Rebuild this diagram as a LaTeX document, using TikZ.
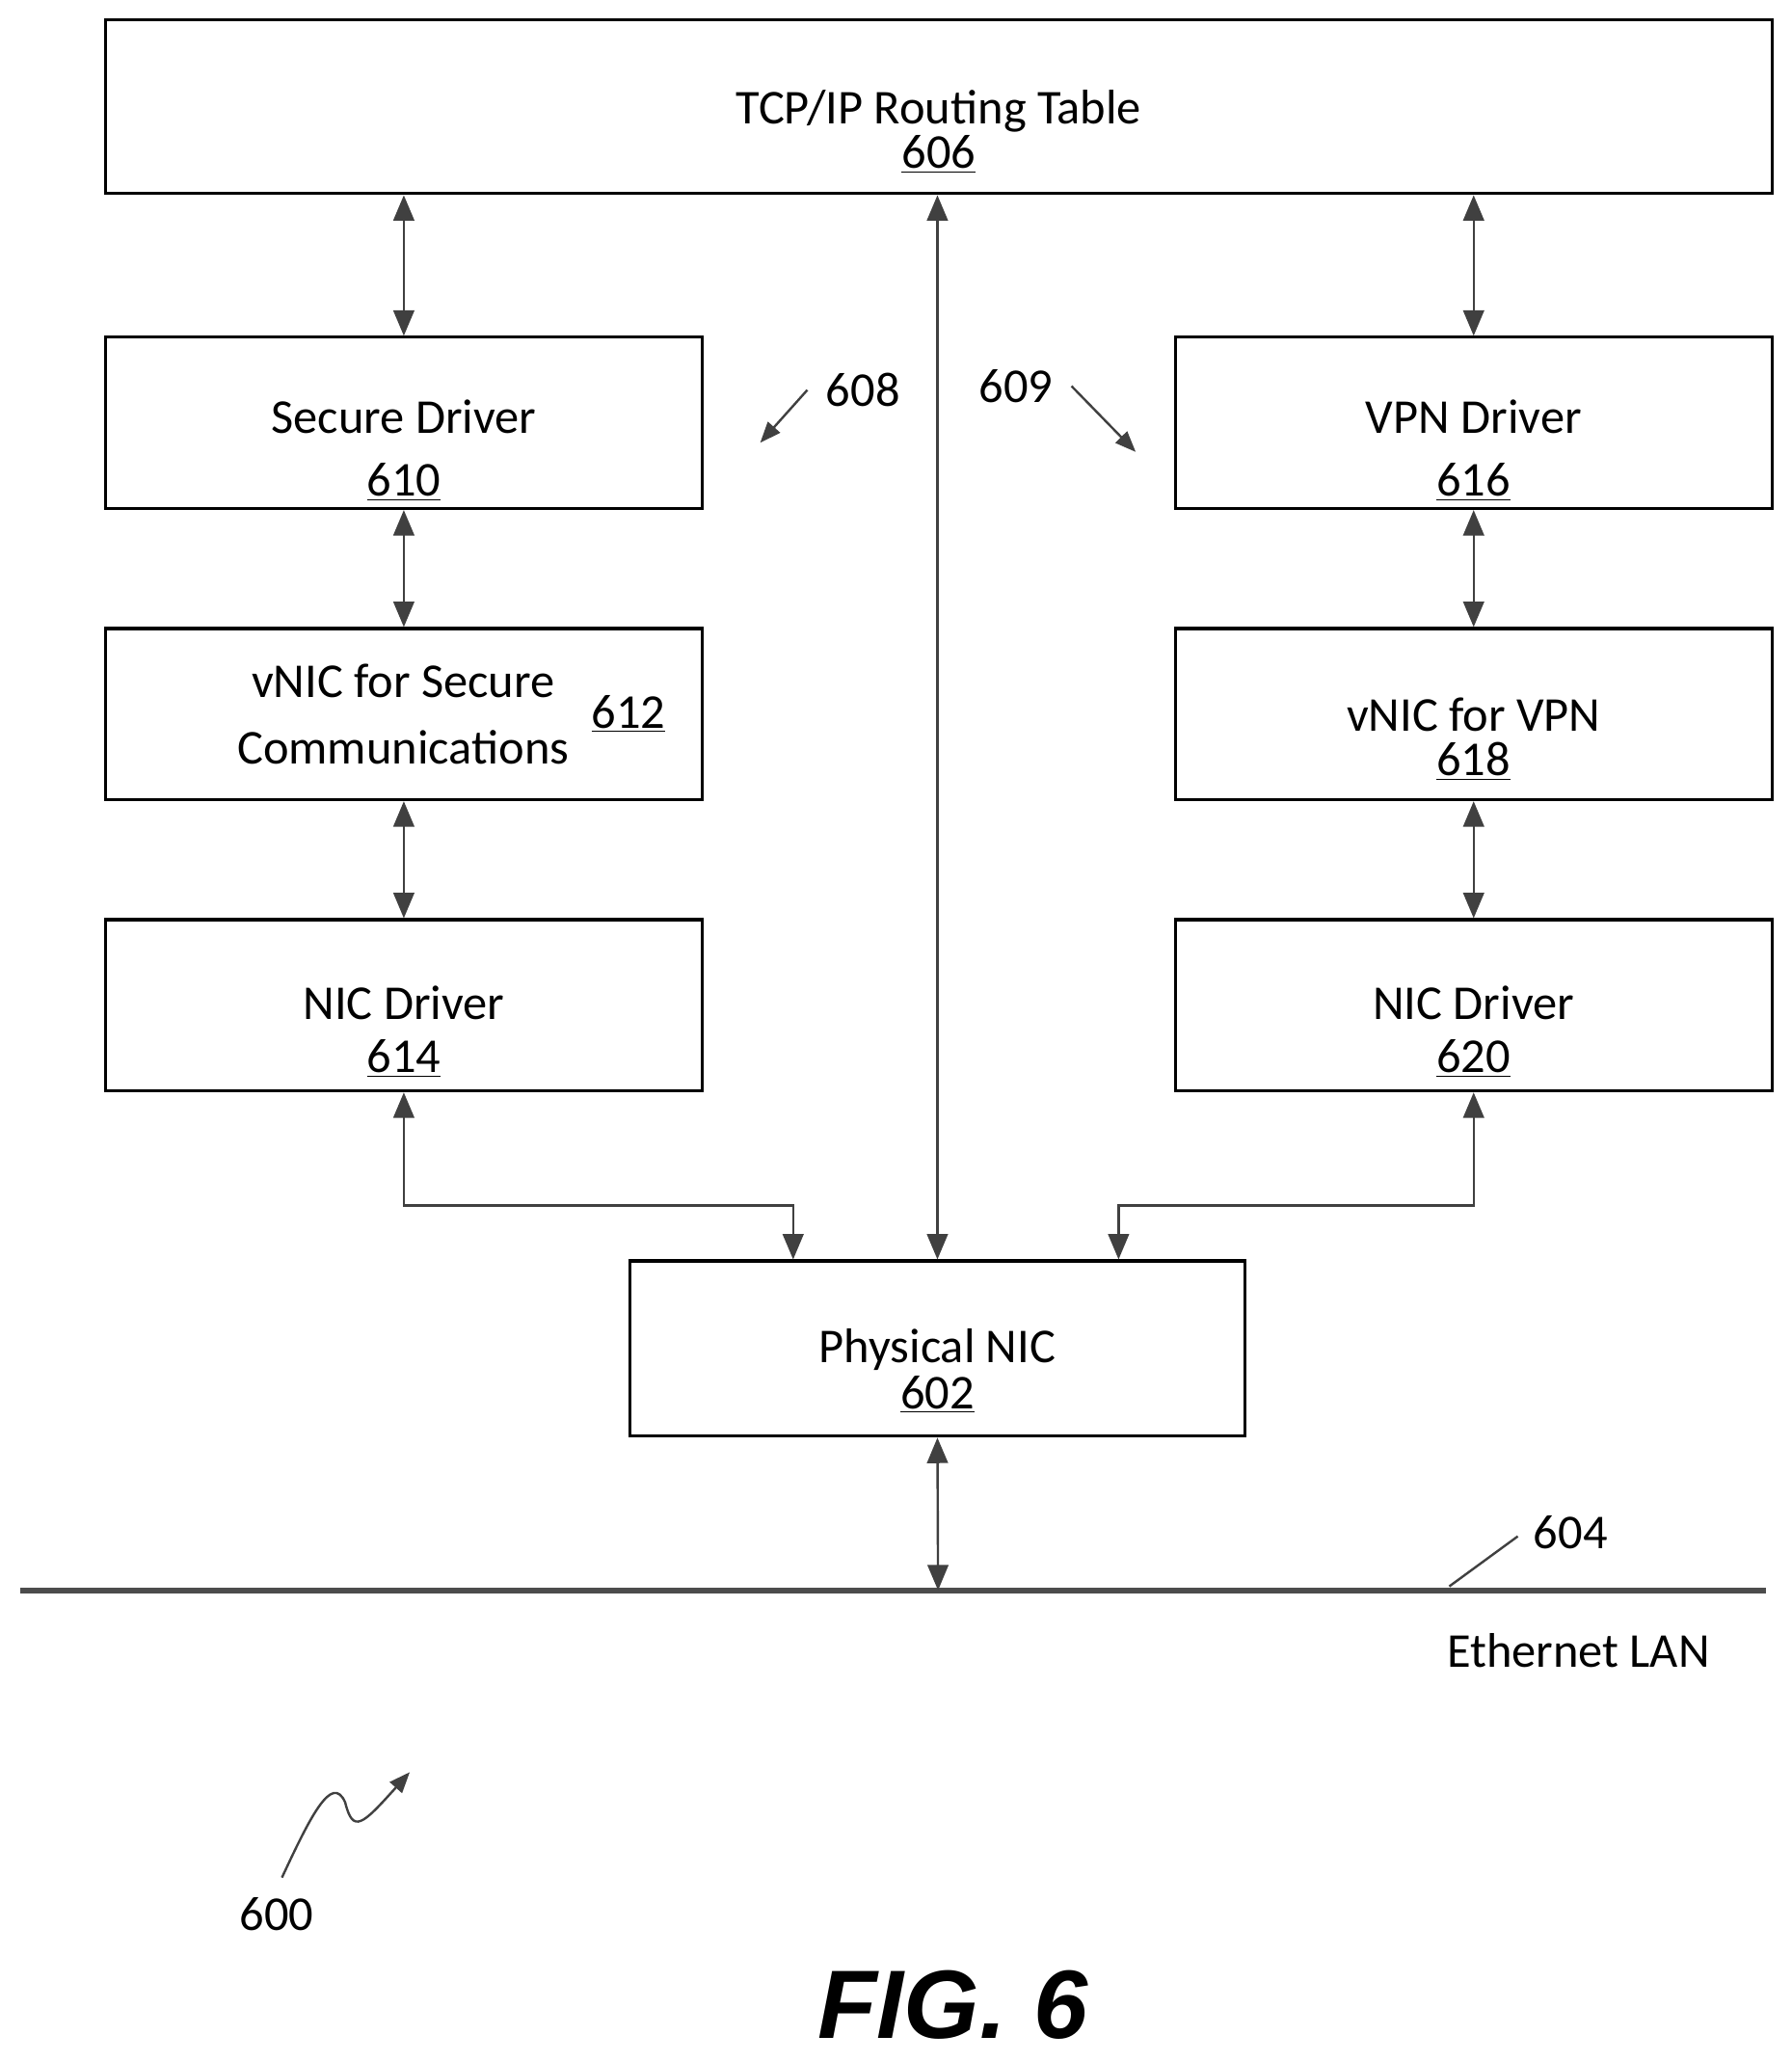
\documentclass[tikz,border=0pt]{standalone}
\usepackage{fontspec}
\setmainfont{Carlito}
\newfontfamily\figfont{Liberation Sans}
\usetikzlibrary{arrows.meta}
\begin{document}
\begin{tikzpicture}[x=0.02cm,y=-0.02cm,
    font=\fontsize{21}{25}\selectfont,
    box/.style={draw, line width=1.3pt, minimum width=9.06cm, minimum height=2.6cm},
    txt/.style={align=center},
    link/.style={{Triangle[length=11pt,width=9pt]}-{Triangle[length=11pt,width=9pt]}, line width=1pt, draw=black!75},
    pointer/.style={-{Triangle[length=9pt,width=7pt]}, line width=1pt, draw=black!75}]
  \useasboundingbox (0,0) rectangle (1360,1565);
  % boxes
  \node[box, minimum width=25.3cm, minimum height=2.64cm] (rt) at (712.5,81) {};
  \node[box] (sd) at (306.5,321) {};
  \node[box] (vs) at (306.5,542) {};
  \node[box] (nl) at (306.5,763) {};
  \node[box] (vd) at (1118.5,321) {};
  \node[box] (vv) at (1118.5,542) {};
  \node[box] (nr) at (1118.5,763) {};
  \node[box, minimum width=9.34cm, minimum height=2.66cm] (pn) at (711.5,1023.5) {};
  % texts
  \node[txt] (trt) at ([yshift=-0.38cm]rt.center) {TCP/IP Routing Table\\[-6pt]\underline{606}};
  \node[txt] (tsd) at ([yshift=-0.42cm]sd.center) {Secure Driver\\[2pt]\underline{610}};
  \node[txt] (tvs) at (306,542) {vNIC for Secure\\[4pt]Communications};
  \node (nvs) at (477,542) {\underline{612}};
  \node[txt] (tnl) at ([yshift=-0.4cm]nl.center) {NIC Driver\\[-2pt]\underline{614}};
  \node[txt] (tvd) at ([yshift=-0.42cm]vd.center) {VPN Driver\\[2pt]\underline{616}};
  \node[txt] (tvv) at ([yshift=-0.38cm]vv.center) {vNIC for VPN\\[-6pt]\underline{618}};
  \node[txt] (tnr) at ([yshift=-0.4cm]nr.center) {NIC Driver\\[-2pt]\underline{620}};
  \node[txt] (tpn) at ([yshift=-0.34cm]pn.center) {Physical NIC\\[-5pt]\underline{602}};
  % connectors
  \draw[link] (sd.north) -- (sd.north |- rt.south);
  \draw[link] (vd.north) -- (vd.north |- rt.south);
  \draw[link] (pn.north) -- (pn.north |- rt.south);
  \draw[link] (sd.south) -- (vs.north);
  \draw[link] (vs.south) -- (nl.north);
  \draw[link] (vd.south) -- (vv.north);
  \draw[link] (vv.south) -- (nr.north);
  \coordinate (jl) at (602,915);
  \coordinate (jr) at (849,915);
  \draw[link] (nl.south) |- (jl) -- (jl |- pn.north);
  \draw[link] (nr.south) |- (jr) -- (jr |- pn.north);
  % ethernet
  \coordinate (lanl) at (15,1207);
  \coordinate (lanr) at (1340,1207);
  \draw[line width=2.5pt, black!70] (lanl) -- (lanr);
  \coordinate (lant) at (712,1207);
  \draw[link] (pn.south) -- (lant);
  \coordinate (t604) at (1100,1204);
  \node (n604) at (1192,1163) {604};
  \draw[line width=1pt, black!75] (t604) -- (1152,1166);
  \node (lan) at (1198,1253) {Ethernet LAN};
  % reference numerals
  \node (n608) at (655,296) {608};
  \draw[pointer] (n608.west) ++(-8,0) -- (577,336);
  \node (n609) at (771,293) {609};
  \draw[pointer] (n609.east) ++(8,0) -- (862,343);
  \node (n600) at (210,1453) {600};
  \draw[pointer] (214,1425) .. controls (235,1380) and (252,1345) .. (262,1368)
    .. controls (268,1392) and (275,1385) .. (311,1345);
  \node[font=\fontsize{42}{46}\selectfont\figfont\bfseries\itshape] (fig) at (723,1522) {FIG. 6};
\end{tikzpicture}
\end{document}
